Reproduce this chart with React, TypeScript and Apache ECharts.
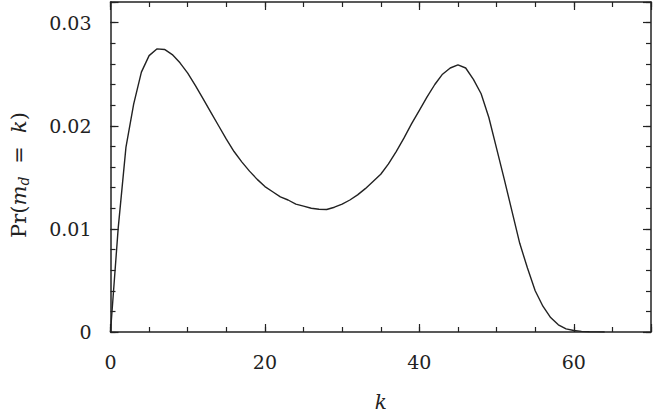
import React, { useEffect, useRef } from "react";
import * as echarts from "echarts";

const kValues: number[] = Array.from({ length: 65 }, (_, i) => i);
const probValues: number[] = [
  0, 0.0101, 0.0179, 0.0221, 0.0252, 0.0268, 0.02745, 0.0274, 0.0269, 0.0261,
  0.0251, 0.0239, 0.0226, 0.0213, 0.02, 0.0187, 0.0175, 0.0165, 0.0156, 0.0148,
  0.0141, 0.0136, 0.0131, 0.0128, 0.0124, 0.0122, 0.012, 0.0119, 0.01188, 0.0121,
  0.0124, 0.0128, 0.0133, 0.0139, 0.0146, 0.0153, 0.0163, 0.0175, 0.0188, 0.0202,
  0.0215, 0.0228, 0.024, 0.025, 0.0256, 0.0259, 0.0256, 0.0245, 0.0231, 0.0208,
  0.0178, 0.0148, 0.0117, 0.0086, 0.0062, 0.004, 0.0025, 0.0014, 0.0007, 0.0003,
  0.00014, 0.00006, 0.00003, 0.00001, 0.000005,
];
const xMajorTicks: number[] = [0, 20, 40, 60];
const yMajorTicks: string[] = ["0", "0.01", "0.02", "0.03"];

const INK = "#222";
const FONT = "DejaVu Serif";

export default function App() {
  const ref = useRef<HTMLDivElement>(null);
  useEffect(() => {
    if (!ref.current) return;
    const chart = echarts.init(ref.current, undefined, { renderer: "svg" });
    const xBase = { type: "value", min: 0, max: 70, splitLine: { show: false } };
    const yBase = { type: "value", min: 0, max: 0.032, splitLine: { show: false } };
    const line = { show: true, onZero: false, lineStyle: { color: INK, width: 1.5 } };
    const noLine = { show: false, onZero: false };
    const noLabel = { show: false };
    const minorTick = { inside: true, length: 5, lineStyle: { color: INK, width: 1.2 } };
    const majorTick = { inside: true, length: 8, lineStyle: { color: INK, width: 1.2 } };
    const data = kValues.map((k, i) => [k, probValues[i]]);
    chart.setOption({
      animation: false,
      backgroundColor: "#fff",
      grid: { left: 107.7, right: 3, top: 2, bottom: 79.5 },
      xAxis: [
        {
          ...xBase,
          position: "bottom",
          interval: 5,
          axisLine: line,
          axisTick: minorTick,
          axisLabel: {
            margin: 20,
            color: INK,
            fontFamily: FONT,
            fontSize: 19,
            formatter: (v: number) => (xMajorTicks.includes(v) ? String(v) : ""),
          },
          name: "k",
          nameLocation: "middle",
          nameGap: 60,
          nameTextStyle: { fontFamily: FONT, fontStyle: "italic", fontSize: 20, color: INK },
        },
        { ...xBase, position: "top", interval: 5, axisLine: line, axisTick: minorTick, axisLabel: noLabel },
        { ...xBase, position: "bottom", interval: 20, axisLine: noLine, axisTick: majorTick, axisLabel: noLabel },
        { ...xBase, position: "top", interval: 20, axisLine: noLine, axisTick: majorTick, axisLabel: noLabel },
      ],
      yAxis: [
        {
          ...yBase,
          position: "left",
          interval: 0.002,
          axisLine: line,
          axisTick: minorTick,
          axisLabel: {
            margin: 19,
            color: INK,
            fontFamily: FONT,
            fontSize: 19,
            formatter: (v: number) => {
              const idx = Math.round(v * 100);
              return Math.abs(v * 100 - idx) < 1e-6 && idx < yMajorTicks.length ? yMajorTicks[idx] : "";
            },
          },
          name: "{r|Pr(}{i|m}{s|d}{e|=}{i|k}{z|)}",
          nameLocation: "middle",
          nameRotate: 90,
          nameGap: 80,
          nameTextStyle: {
            color: INK,
            rich: {
              r: { fontFamily: FONT, fontSize: 21, color: INK },
              i: { fontFamily: FONT, fontStyle: "italic", fontSize: 21, color: INK },
              s: { fontFamily: FONT, fontStyle: "italic", fontSize: 14, color: INK, padding: [10, 0, 0, 0] },
              e: { fontFamily: FONT, fontSize: 21, color: INK, padding: [0, 13, 0, 13] },
              z: { fontFamily: FONT, fontSize: 21, color: INK, padding: [0, 16, 0, 0] },
            },
          },
        },
        { ...yBase, position: "right", interval: 0.002, axisLine: line, axisTick: minorTick, axisLabel: noLabel },
        { ...yBase, position: "left", interval: 0.01, axisLine: noLine, axisTick: majorTick, axisLabel: noLabel },
        { ...yBase, position: "right", interval: 0.01, axisLine: noLine, axisTick: majorTick, axisLabel: noLabel },
      ],
      series: [
        {
          type: "line",
          xAxisIndex: 0,
          yAxisIndex: 0,
          data,
          showSymbol: false,
          symbol: "none",
          smooth: false,
          lineStyle: { color: INK, width: 1.4 },
          silent: true,
        },
      ],
    });
    return () => chart.dispose();
  }, []);
  return <div ref={ref} style={{ width: 654, height: 417, position: "absolute", left: 0, top: 0 }} />;
}
